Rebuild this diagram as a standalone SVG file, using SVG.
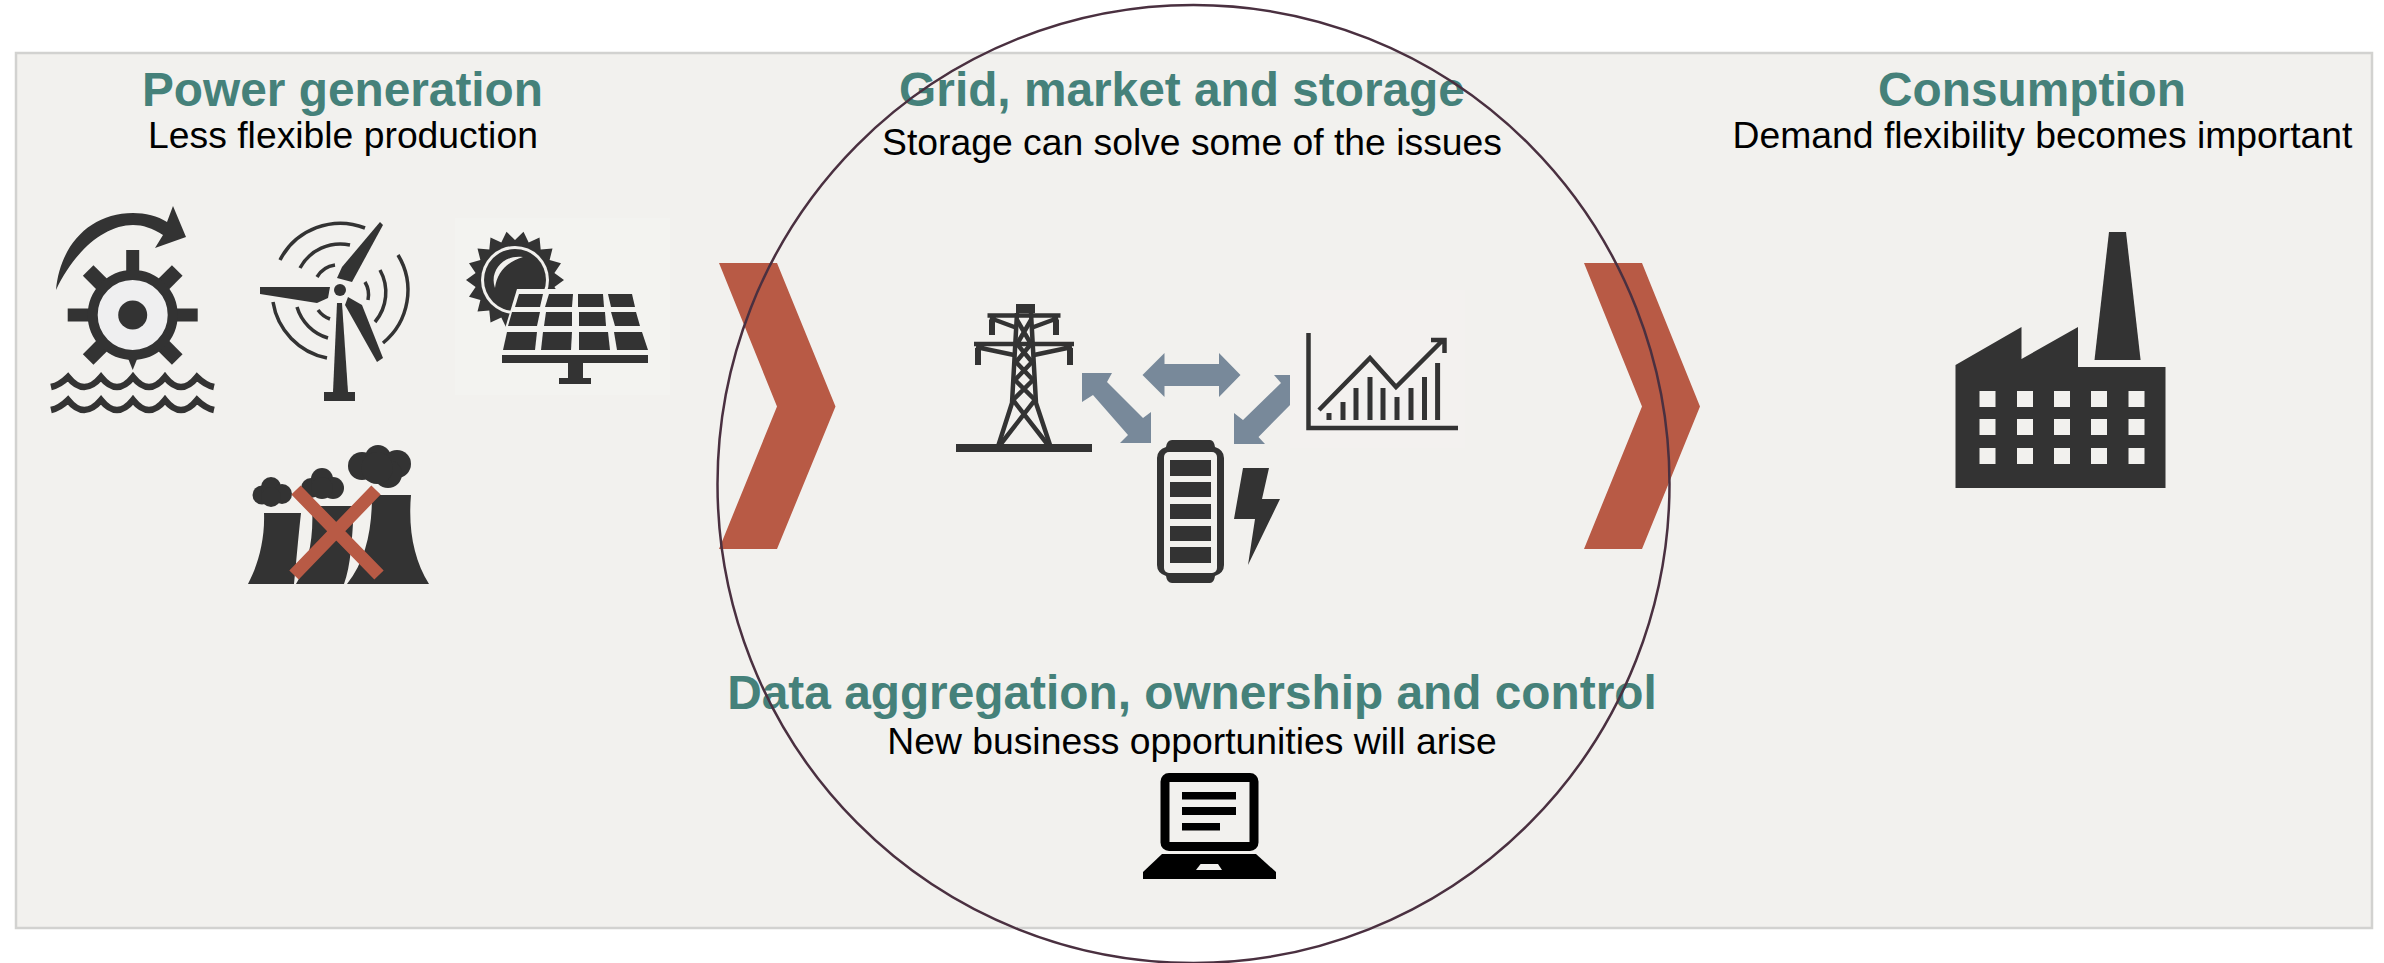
<svg xmlns="http://www.w3.org/2000/svg" width="2384" height="963" viewBox="0 0 2384 963">
<style>
text{font-family:"Liberation Sans",Arial,sans-serif;text-anchor:middle}
.h{font-size:47.800px;font-weight:700;fill:#45817a}
.s{font-size:37.300px;fill:#000}
.d{fill:#333}
.l{fill:#f2f1ee}
.ln{fill:none;stroke:#333}
.chev{fill:#b85a45}
.arr{fill:#78899a}
</style>
<defs>
<rect id="spoke" x="-6.500" y="-65" width="13" height="28" fill="#333"/>
<rect id="dspoke" x="-7.500" y="-63" width="15" height="26" fill="#333"/>
<path id="wave" d="M51,387 Q60,385 68,377 Q84,397 101,377 Q117,397 133,377 Q149,397 165,377 Q181,397 197,377 Q205,385 214,387" fill="none" stroke="#333" stroke-width="6.500"/>
<rect id="win" width="16" height="16" fill="#f2f1ee"/>
</defs>
<rect x="0" y="0" width="2384" height="963" fill="#fff"/>
<rect id="panel" x="16" y="53" width="2356" height="875" fill="#f2f1ee" stroke="#d2d2d0" stroke-width="2.500"/>

<g id="connectors">
<path class="chev" d="M719,263H777L835.500,406.500L777,549H719L777,406.500Z"/>
<path class="chev" d="M1584,263H1642L1700,406.500L1642,549H1584L1642,406.500Z"/>
<polygon class="arr" points="1142.500,375 1164.500,353 1164.500,364 1219,364 1219,353 1240.500,375 1219,397 1219,386 1164.500,386 1164.500,397"/>
<polygon class="arr" points="1082,373 1112,373 1107,382 1143,418 1151,412 1151,443 1120,443 1128,435 1093,395 1082,402"/>
<polygon class="arr" points="1304,375 1274,375 1281,383 1243,420 1234,413 1234,444 1265,444 1258.500,437 1295,400 1304,405"/>
</g>

<g id="power-generation">
<text class="h" x="342.500" y="105.500">Power generation</text>
<text class="s" x="343" y="148">Less flexible production</text>
</g>

<g id="hydro">
<path class="d" d="M56,290C60,245 90,213 133,213C145,213 158,216 167,222L173,206L186,237L155,248L163,235C152,228 143,225 133,225C105,225 75,250 56,290Z"/>
<g transform="translate(132.700,315)">
<use href="#spoke"/><use href="#dspoke" transform="rotate(45)"/><use href="#spoke" transform="rotate(90)"/><use href="#dspoke" transform="rotate(135)"/><use href="#dspoke" transform="rotate(225)"/><use href="#spoke" transform="rotate(270)"/><use href="#dspoke" transform="rotate(315)"/>
<polygon points="-6,40 6,40 0,55" class="d"/>
<circle r="40" fill="#efeff0" stroke="#333" stroke-width="10"/>
<circle r="14.500" class="d"/>
</g>
<use href="#wave"/>
<use href="#wave" y="23"/>
</g>

<g id="wind">
<g class="ln" stroke-width="3.500">
<path d="M280,260A68,68 0 0 1 365,228"/>
<path d="M398,255A68,68 0 0 1 383,343"/>
<path d="M273,302A68,68 0 0 0 327,358"/>
<path d="M300,268A46,46 0 0 1 350,245"/>
<path d="M380,270A46,46 0 0 1 375,322"/>
<path d="M297,307A46,46 0 0 0 328,338"/>
<path d="M317,277A25,25 0 0 1 335,265"/>
<path d="M365,282A25,25 0 0 1 368,300"/>
<path d="M318,310A25,25 0 0 0 330,319"/>
</g>
<polygon class="d" points="337,278 342,267 380,222 383,225 352,282"/>
<polygon class="d" points="260,287 330,287 328,298 317,303 260,294"/>
<polygon class="d" points="348,297 362,305 383,358 377,362 345,305"/>
<polygon class="d" points="337,303 342,303 348,392 333,392"/>
<rect class="d" x="324" y="392" width="31" height="9"/>
<circle cx="340" cy="290" r="9" class="l"/>
<circle cx="340" cy="290" r="6" class="d"/>
</g>

<g id="solar">
<rect x="455" y="218" width="215" height="177" fill="#f3f3f0"/>
<g transform="translate(515,280)">
<polygon class="d" points="49,0 39.400,6.900 46,16.800 34.600,20 37.500,31.500 25.700,30.600 24.500,42.400 13.700,37.600 8.500,48.300 0,40 -8.500,48.300 -13.700,37.600 -24.500,42.400 -25.700,30.600 -37.500,31.500 -34.600,20 -46,16.800 -39.400,6.900 -49,0 -39.400,-6.900 -46,-16.800 -34.600,-20 -37.500,-31.500 -25.700,-30.600 -24.500,-42.400 -13.700,-37.600 -8.500,-48.300 0,-40 8.500,-48.300 13.700,-37.600 24.500,-42.400 25.700,-30.600 37.500,-31.500 34.600,-20 46,-16.800 39.400,-6.900"/>
<circle r="34" class="l"/>
<circle r="31" class="d"/>
<path d="M8,-23C-12,-26 -26,-8 -20,8C-18,-8 -8,-18 8,-23Z" class="l"/>
</g>
<polygon points="517,289 638,289 654,355 497,355" fill="#f3f3f0"/>
<g class="d">
<polygon points="519,294 543,294 540,307 515,307"/><polygon points="549,294 573,294 572,307 545,307"/><polygon points="578,294 603,294 604,307 578,307"/><polygon points="608,294 632,294 635,307 611,307"/>
<polygon points="512,312 540,312 537,326 508,326"/><polygon points="546,312 572,312 572,326 544,326"/><polygon points="579,312 605,312 606,326 579,326"/><polygon points="611,312 636,312 640,326 615,326"/>
<polygon points="507,332 537,332 535,350 503,350"/><polygon points="543,332 572,332 571,350 541,350"/><polygon points="579,332 608,332 610,350 579,350"/><polygon points="614,332 642,332 648,350 617,350"/>
<rect x="502" y="355" width="146" height="8"/>
<rect x="568" y="363" width="15" height="16"/>
<rect x="559" y="378" width="32" height="6"/>
</g>
</g>

<g id="coal">
<g class="d">
<circle cx="262" cy="495" r="9.500"/><circle cx="271" cy="487" r="10"/><circle cx="282" cy="494" r="10"/><circle cx="271" cy="497" r="10"/>
<circle cx="311" cy="488" r="10"/><circle cx="322" cy="479" r="11"/><circle cx="333" cy="488" r="11"/><circle cx="322" cy="488" r="11"/>
<circle cx="362" cy="466" r="14"/><circle cx="378" cy="458" r="13"/><circle cx="397" cy="464" r="14"/><circle cx="388" cy="474" r="14"/><circle cx="377" cy="468" r="16"/>
<path d="M264,513H301C298,540 296,565 294,584H248C258,565 265,540 264,513Z"/>
<path d="M312,506H354C352,540 351,565 344,584H296C308,565 314,540 312,506Z"/>
<path d="M372,495H411C408,530 414,560 429,584H347C366,560 372,530 372,495Z"/>
</g>
<path d="M296,490L379,575M376,490L294,575" fill="none" stroke="#b85a45" stroke-width="13"/>
</g>

<g id="grid-market-storage">
<text class="h" x="1182" y="105.500">Grid, market and storage</text>
<text class="s" x="1192" y="155">Storage can solve some of the issues</text>
</g>

<g id="pylon">
<rect class="d" x="956" y="444" width="136" height="8"/>
<rect class="d" x="1016" y="304" width="19" height="9"/>
<g class="ln" stroke-width="4.500">
<path d="M1017,313L1012,403L998.500,445M1031,313L1036,403L1050,445"/>
<path d="M987.500,315.500H1060.500M990,318L1017,328M1058,318L1031,328"/>
<path d="M974,344H1074M976,347L1014,355M1072,347L1034,355"/>
<path d="M1017,320L1031,344L1016,362L1033,380L1013,400L1048,445M1031,320L1017,344L1032,362L1015,380L1035,400L1000,445"/>
</g>
<g class="d">
<rect x="989" y="320" width="6" height="15"/><rect x="1053" y="320" width="6" height="15"/>
<rect x="975" y="348" width="6" height="17"/><rect x="1067" y="348" width="6" height="17"/>
</g>
</g>

<g id="market-chart">
<rect x="1290" y="290" width="175" height="158" fill="#f3f1ef"/>
<path class="ln" stroke-width="4.500" d="M1308.500,333V428H1458"/>
<path class="ln" stroke-width="4.500" d="M1319,410L1370,358L1396,387L1443,340M1431,340H1444.500V353"/>
<path class="ln" stroke-width="5" d="M1329,420V413M1343,420V402M1356,420V388M1370,420V377M1383,420V388M1397,420V397M1411,420V388M1424.500,420V377M1437.600,420V363"/>
</g>

<g id="battery">
<path class="d" d="M1172,440H1210Q1214,440 1215,447Q1224,450 1224,458V565Q1224,573 1215,576Q1214,583 1210,583H1172Q1167,583 1166,576Q1157,573 1157,565V458Q1157,450 1166,447Q1167,440 1172,440Z"/>
<rect x="1164" y="452" width="53" height="121" rx="5" class="l"/>
<g class="d">
<rect x="1170" y="460" width="41" height="16"/><rect x="1170" y="482" width="41" height="15"/><rect x="1170" y="504" width="41" height="15"/><rect x="1170" y="526" width="41" height="15"/><rect x="1170" y="547" width="41" height="16"/>
<polygon points="1243,468 1269,468 1262,499 1280,499 1248,565 1255,519 1234,519"/>
</g>
</g>

<g id="data-aggregation">
<text class="h" x="1192" y="709">Data aggregation, ownership and control</text>
<text class="s" x="1192" y="754">New business opportunities will arise</text>
</g>

<g id="laptop">
<rect x="1165" y="777.500" width="89" height="69" rx="4" fill="#f2f1ee" stroke="#000" stroke-width="9"/>
<rect x="1182" y="792" width="54" height="7.500"/><rect x="1182" y="807" width="54" height="8"/><rect x="1182" y="823" width="38" height="7.500"/>
<path d="M1162,854H1256L1276,872V879H1143V872Z"/>
<polygon points="1200.600,864 1218,864 1222,870 1196,870" fill="#f2f1ee"/>
</g>

<g id="consumption">
<text class="h" x="2032" y="105.500">Consumption</text>
<text class="s" x="2042.500" y="148">Demand flexibility becomes important</text>
</g>

<g id="factory">
<polygon class="d" points="2109,232 2126,232 2140.600,360 2094.500,360"/>
<polygon class="d" points="1955.500,365 2021.500,327 2021.500,359 2078,327 2078,367 2165.500,367 2165.500,488 1955.500,488"/>
<use href="#win" x="1979.500" y="391"/><use href="#win" x="2017" y="391"/><use href="#win" x="2054" y="391"/><use href="#win" x="2091" y="391"/><use href="#win" x="2128.500" y="391"/>
<use href="#win" x="1979.500" y="419"/><use href="#win" x="2017" y="419"/><use href="#win" x="2054" y="419"/><use href="#win" x="2091" y="419"/><use href="#win" x="2128.500" y="419"/>
<use href="#win" x="1979.500" y="448"/><use href="#win" x="2017" y="448"/><use href="#win" x="2054" y="448"/><use href="#win" x="2091" y="448"/><use href="#win" x="2128.500" y="448"/>
</g>

<ellipse id="focus-circle" cx="1193.500" cy="484" rx="476" ry="479" fill="none" stroke="#4a3040" stroke-width="2.500"/>
</svg>
